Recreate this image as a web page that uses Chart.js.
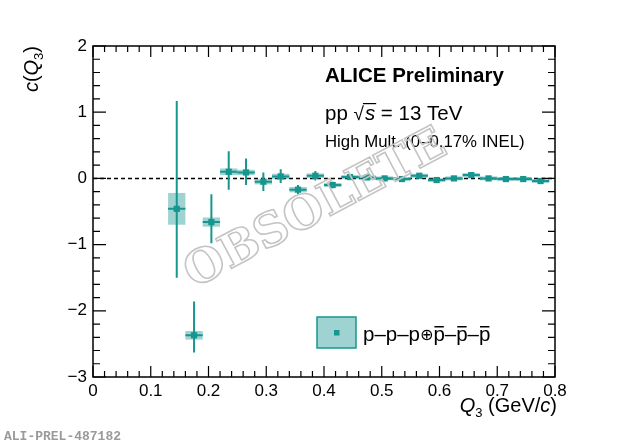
<!DOCTYPE html>
<html>
<head>
<meta charset="utf-8">
<script src="https://cdn.jsdelivr.net/npm/chart.js@4.4.0/dist/chart.umd.min.js"></script>
<style>
  html, body { margin: 0; padding: 0; background: #fff; }
  #wrap { width: 620px; height: 445px; }
</style>
</head>
<body>
<div id="wrap"><canvas id="c3Chart" width="620" height="445"></canvas></div>
<script>
// Q3 bin centres (GeV/c) and measured c(Q3)
const q3 = [0.145, 0.175, 0.205, 0.235, 0.265, 0.295, 0.325, 0.355, 0.385, 0.415, 0.445,
            0.475, 0.505, 0.535, 0.565, 0.595, 0.625, 0.655, 0.685, 0.715, 0.745, 0.775];
const cq3 = [-0.46, -2.37, -0.66, 0.10, 0.09, -0.05, 0.03, -0.17, 0.04, -0.10, 0.02,
             0.015, 0.0, -0.01, 0.04, -0.025, 0.0, 0.05, 0.0, -0.01, -0.01, -0.04];
// statistical errors (up / down)
const statUp = [1.63, 0.51, 0.42, 0.31, 0.21, 0.14, 0.11, 0.07, 0.07, 0.05, 0.03,
                0.03, 0.02, 0.02, 0.02, 0.02, 0.02, 0.02, 0.02, 0.02, 0.02, 0.02];
const statDown = [1.04, 0.26, 0.32, 0.27, 0.19, 0.14, 0.10, 0.07, 0.07, 0.05, 0.03,
                  0.03, 0.02, 0.02, 0.02, 0.02, 0.02, 0.02, 0.02, 0.02, 0.02, 0.02];
// systematic errors (boxes)
const systErr = [0.24, 0.065, 0.07, 0.05, 0.04, 0.04, 0.04, 0.04, 0.035, 0.03, 0.03,
                 0.03, 0.03, 0.03, 0.03, 0.03, 0.03, 0.03, 0.03, 0.03, 0.03, 0.03];
const binHalf = 0.015;

// tick labels
const xTickLabels = ['0', '0.1', '0.2', '0.3', '0.4', '0.5', '0.6', '0.7', '0.8'];
const yTickLabels = ['\u22123', '\u22122', '\u22121', '0', '1', '2'];

const TEAL = '#17968f';
const BOX_FILL = 'rgba(27,150,147,0.42)';
const FONT = '"Liberation Sans", Helvetica, Arial, sans-serif';

function isMajor(v, step) {
  return Math.abs(v / step - Math.round(v / step)) < 1e-6;
}

// Draw syst boxes, error bars, zero line
const errorBarsPlugin = {
  id: 'errorBars',
  beforeDatasetsDraw(chart) {
    const { ctx, chartArea: a, scales: { x, y } } = chart;
    ctx.save();
    ctx.beginPath();
    ctx.rect(a.left, a.top, a.right - a.left, a.bottom - a.top);
    ctx.clip();

    // dashed line at zero
    ctx.setLineDash([4, 3]);
    ctx.strokeStyle = '#000';
    ctx.lineWidth = 1.5;
    ctx.beginPath();
    ctx.moveTo(a.left, y.getPixelForValue(0));
    ctx.lineTo(a.right, y.getPixelForValue(0));
    ctx.stroke();
    ctx.setLineDash([]);

    // systematic boxes
    ctx.fillStyle = BOX_FILL;
    q3.forEach((q, i) => {
      const x0 = x.getPixelForValue(q - binHalf);
      const x1 = x.getPixelForValue(q + binHalf);
      const y0 = y.getPixelForValue(cq3[i] + systErr[i]);
      const y1 = y.getPixelForValue(cq3[i] - systErr[i]);
      ctx.fillRect(x0, y0, x1 - x0, y1 - y0);
    });

    // statistical error bars
    ctx.strokeStyle = TEAL;
    ctx.lineWidth = 2;
    q3.forEach((q, i) => {
      const px = x.getPixelForValue(q);
      const py = y.getPixelForValue(cq3[i]);
      ctx.beginPath();
      ctx.moveTo(px, y.getPixelForValue(cq3[i] + statUp[i]));
      ctx.lineTo(px, y.getPixelForValue(cq3[i] - statDown[i]));
      ctx.moveTo(x.getPixelForValue(q - binHalf), py);
      ctx.lineTo(x.getPixelForValue(q + binHalf), py);
      ctx.stroke();
    });
    ctx.restore();
  }
};

// draw a run of text pieces with mixed styles, returns end x
function drawPieces(ctx, pieces, x, y, dir) {
  pieces.forEach(p => {
    ctx.font = p.font;
    p.w = ctx.measureText(p.t).width;
  });
  const total = pieces.reduce((s, p) => s + p.w, 0);
  let cx = dir === 'right' ? x - total : x;
  pieces.forEach(p => {
    ctx.font = p.font;
    ctx.fillText(p.t, cx, y + (p.dy || 0));
    if (p.bar) {
      ctx.fillRect(cx + 1, y - p.bar, p.w - 2, 1.5);
    }
    cx += p.w;
  });
  return cx;
}

// ROOT-like frame, inward ticks, labels and texts
const framePlugin = {
  id: 'rootFrame',
  afterDraw(chart) {
    const { ctx, chartArea: a, scales: { x, y } } = chart;
    ctx.save();

    // frame
    ctx.strokeStyle = '#000';
    ctx.lineWidth = 1.5;
    ctx.strokeRect(a.left, a.top, a.right - a.left, a.bottom - a.top);

    // ticks
    ctx.lineWidth = 1.2;
    ctx.beginPath();
    x.ticks.forEach(t => {
      const px = x.getPixelForValue(t.value);
      const len = isMajor(t.value, 0.1) ? 11 : 6;
      ctx.moveTo(px, a.bottom); ctx.lineTo(px, a.bottom - len);
      ctx.moveTo(px, a.top); ctx.lineTo(px, a.top + len);
    });
    y.ticks.forEach(t => {
      const py = y.getPixelForValue(t.value);
      const len = isMajor(t.value, 1) ? 13 : 7;
      ctx.moveTo(a.left, py); ctx.lineTo(a.left + len, py);
      ctx.moveTo(a.right, py); ctx.lineTo(a.right - len, py);
    });
    ctx.stroke();

    // labels top right
    ctx.fillStyle = '#000';
    ctx.textBaseline = 'alphabetic';
    ctx.textAlign = 'left';
    ctx.font = 'bold 20.5px ' + FONT;
    ctx.fillText('ALICE Preliminary', 325, 82);

    let cx = drawPieces(ctx, [
      { t: 'pp ', font: '20.5px ' + FONT },
      { t: '\u221A', font: '19px ' + FONT }
    ], 325, 120, 'left');
    ctx.font = 'italic 20.5px ' + FONT;
    const sW = ctx.measureText('s').width;
    ctx.fillRect(cx - 1, 103, sW + 3, 1.2);
    drawPieces(ctx, [
      { t: 's', font: 'italic 20.5px ' + FONT },
      { t: ' = 13 TeV', font: '20.5px ' + FONT }
    ], cx + 1, 120, 'left');

    ctx.font = '16.8px ' + FONT;
    ctx.fillText('High Mult. (0\u20130.17% INEL)', 325, 147);

    // legend
    ctx.fillStyle = BOX_FILL;
    ctx.fillRect(317, 317, 39, 31);
    ctx.strokeStyle = TEAL;
    ctx.lineWidth = 1.5;
    ctx.strokeRect(317, 317, 39, 31);
    ctx.fillStyle = TEAL;
    ctx.fillRect(334, 330, 5.5, 5.5);
    ctx.fillStyle = '#000';
    const lf = '20.5px ' + FONT;
    drawPieces(ctx, [
      { t: 'p', font: lf }, { t: '\u2013', font: lf }, { t: 'p', font: lf },
      { t: '\u2013', font: lf }, { t: 'p', font: lf },
      { t: '\u2295', font: '16px "DejaVu Sans", sans-serif', dy: -1 },
      { t: 'p', font: lf, bar: 15 }, { t: '\u2013', font: lf },
      { t: 'p', font: lf, bar: 15 }, { t: '\u2013', font: lf },
      { t: 'p', font: lf, bar: 15 }
    ], 363, 341, 'left');

    // x axis title
    drawPieces(ctx, [
      { t: 'Q', font: 'italic 20px ' + FONT },
      { t: '3', font: '13px ' + FONT, dy: 5 },
      { t: ' (GeV/', font: '20px ' + FONT },
      { t: 'c', font: 'italic 20px ' + FONT },
      { t: ')', font: '20px ' + FONT }
    ], 557, 412, 'right');

    // y axis title
    ctx.save();
    ctx.translate(38, 46);
    ctx.rotate(-Math.PI / 2);
    drawPieces(ctx, [
      { t: 'c', font: 'italic 20px ' + FONT },
      { t: '(', font: '20px ' + FONT },
      { t: 'Q', font: 'italic 20px ' + FONT },
      { t: '3', font: '13px ' + FONT, dy: 5 },
      { t: ')', font: '20px ' + FONT }
    ], 0, 0, 'right');
    ctx.restore();

    // OBSOLETE watermark
    ctx.save();
    ctx.translate(316, 210);
    ctx.rotate(-28 * Math.PI / 180);
    ctx.font = 'bold 46px "DejaVu Serif", "Liberation Serif", serif';
    ctx.textAlign = 'center';
    ctx.textBaseline = 'middle';
    ctx.strokeStyle = '#c4c4c4';
    ctx.lineWidth = 1.6;
    ctx.strokeText('OBSOLETE', 0, 0);
    ctx.restore();

    // preliminary id
    ctx.fillStyle = '#9a9a9a';
    ctx.font = 'bold 13px "Liberation Mono", "DejaVu Sans Mono", monospace';
    ctx.textAlign = 'left';
    ctx.fillText('ALI-PREL-487182', 4, 440);

    ctx.restore();
  }
};

function initChart() {
  const ctx = document.getElementById('c3Chart');
  new Chart(ctx, {
    type: 'scatter',
    data: {
      datasets: [{
        label: 'p\u2013p\u2013p\u2295p\u0305\u2013p\u0305\u2013p\u0305',
        data: q3.map((q, i) => ({ x: q, y: cq3[i] })),
        backgroundColor: TEAL,
        borderWidth: 0,
        pointStyle: 'rect',
        pointRadius: 4.4,
        pointHoverRadius: 4.4
      }]
    },
    plugins: [errorBarsPlugin, framePlugin],
    options: {
      responsive: false,
      animation: false,
      devicePixelRatio: 1,
      layout: { padding: { left: 0, right: 65, top: 46, bottom: 0 } },
      plugins: { legend: { display: false }, tooltip: { enabled: false } },
      scales: {
        x: {
          type: 'linear',
          min: 0, max: 0.8,
          grid: { display: false, drawTicks: false },
          border: { display: false },
          afterFit: s => { s.height = 68; },
          ticks: {
            stepSize: 0.02,
            autoSkip: false,
            maxRotation: 0,
            maxTicksLimit: 100,
            padding: 4,
            color: '#000',
            font: { family: FONT, size: 17 },
            callback: v => isMajor(v, 0.1) ? xTickLabels[Math.round(v / 0.1)] : ''
          }
        },
        y: {
          type: 'linear',
          min: -3, max: 2,
          grid: { display: false, drawTicks: false },
          border: { display: false },
          afterFit: s => { s.width = 93; },
          ticks: {
            stepSize: 0.2,
            autoSkip: false,
            maxTicksLimit: 100,
            padding: 6,
            color: '#000',
            font: { family: FONT, size: 17 },
            callback: v => isMajor(v, 1) ? yTickLabels[Math.round(v) + 3] : ''
          }
        }
      }
    }
  });
}

document.addEventListener('DOMContentLoaded', initChart);
</script>
</body>
</html>
